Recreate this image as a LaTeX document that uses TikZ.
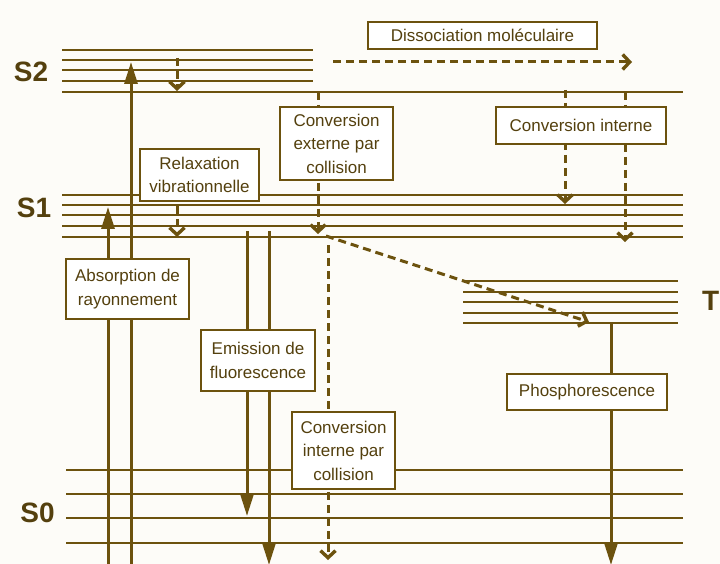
\documentclass[tikz,border=0pt]{standalone}
\usepackage{fontspec}
\setmainfont{Liberation Sans}
\usetikzlibrary{arrows.meta}
\definecolor{umber}{RGB}{108,82,14}
\definecolor{umbertext}{RGB}{84,64,14}
\definecolor{paper}{RGB}{253,252,248}

\begin{document}
\begin{tikzpicture}[
  x=1pt, y=-1pt,
  level/.style={draw=umber, line width=1.8pt},
  procbox/.style={
    draw=umber, fill=white, line width=1.5pt, inner sep=0pt,
    text=umbertext, font=\fontsize{17}{23.5}\selectfont, align=center
  },
  statelabel/.style={
    inner sep=0pt, text=umbertext,
    font=\fontsize{28}{28}\selectfont\bfseries
  },
  radflow/.style={draw=umber, line width=3pt,
    -{Triangle[length=22pt, width=13pt]}},
  nonradflow/.style={draw=umber, line width=3pt,
    dash pattern=on 8pt off 5pt,
    -{Straight Barb[length=7pt, width=15pt, line width=3.4pt]}}
]
\useasboundingbox[fill=paper] (0,0) rectangle (720,564);

% Vibrational levels of each state.
\foreach \y in {50,60,70,81}
  \draw[level] (62,\y) -- (313,\y);
\draw[level] (62,92) -- (683,92);
\foreach \y in {195,205,215,226,237}
  \draw[level] (62,\y) -- (683,\y);
\foreach \y in {281,292,302,313,323}
  \draw[level] (463,\y) -- (678,\y);
\foreach \y in {470,494,518,543}
  \draw[level] (66,\y) -- (683,\y);

% End points of the transitions.
\coordinate (absA0) at (108,566);  \coordinate (absA1) at (108,207);
\coordinate (absB0) at (131,566);  \coordinate (absB1) at (131,62);
\coordinate (relS2a) at (177,58);  \coordinate (relS2b) at (177,91);
\coordinate (relS1a) at (177,206); \coordinate (relS1b) at (177,237);
\coordinate (fluoA0) at (247,231); \coordinate (fluoA1) at (247,516);
\coordinate (fluoB0) at (269,231); \coordinate (fluoB1) at (269,565);
\coordinate (cext0) at (318,92);   \coordinate (cext1) at (318,234);
\coordinate (isc0) at (326,236);   \coordinate (isc1) at (589,322);
\coordinate (ccol0) at (328,245);  \coordinate (ccol1) at (328,560);
\coordinate (cintA0) at (565,90);  \coordinate (cintA1) at (565,204);
\coordinate (cintB0) at (625,92);  \coordinate (cintB1) at (625,242);
\coordinate (diss0) at (333,62);   \coordinate (diss1) at (632,62);
\coordinate (phos0) at (611,323);  \coordinate (phos1) at (611,565);

% Radiative transitions.
\draw[radflow] (absA0) -- (absA1);
\draw[radflow] (absB0) -- (absB1);
\draw[radflow] (fluoA0) -- (fluoA1);
\draw[radflow] (fluoB0) -- (fluoB1);
\draw[radflow] (phos0) -- (phos1);

% Non-radiative transitions.
\draw[nonradflow] (relS2a) -- (relS2b);
\draw[nonradflow] (relS1a) -- (relS1b);
\draw[nonradflow] (cext0) -- (cext1);
\draw[nonradflow] (isc0) -- (isc1);
\draw[nonradflow] (ccol0) -- (ccol1);
\draw[nonradflow] (cintA0) -- (cintA1);
\draw[nonradflow] (cintB0) -- (cintB1);
\draw[nonradflow] (diss0) -- (diss1);

% Process labels.
\node[procbox, minimum width=229pt, minimum height=27pt]
  (dissoc) at (482.5,35.5) {Dissociation moléculaire};
\node[procbox, minimum width=113pt, minimum height=73pt]
  (convext) at (336.5,143.5) {Conversion\\externe par\\collision};
\node[procbox, minimum width=170pt, minimum height=37pt]
  (convint) at (581,125.5) {Conversion interne};
\node[procbox, minimum width=119pt, minimum height=52pt]
  (relax) at (199.5,175) {Relaxation\\vibrationnelle};
\node[procbox, minimum width=123pt, minimum height=60pt]
  (absorb) at (127.5,289) {Absorption de\\rayonnement};
\node[procbox, minimum width=114pt, minimum height=61pt]
  (fluo) at (258,360.5) {Emission de\\fluorescence};
\node[procbox, minimum width=103pt, minimum height=77pt]
  (convcol) at (343.5,450.5) {Conversion\\interne par\\collision};
\node[procbox, minimum width=160pt, minimum height=36pt]
  (phosph) at (587,392) {Phosphorescence};

% State names.
\node[statelabel] (S2) at (31,72) {S2};
\node[statelabel] (S1) at (34,208) {S1};
\node[statelabel] (S0) at (37.5,512.5) {S0};
\node[statelabel, anchor=east] (T) at (719.5,301) {T};

\end{tikzpicture}
\end{document}
